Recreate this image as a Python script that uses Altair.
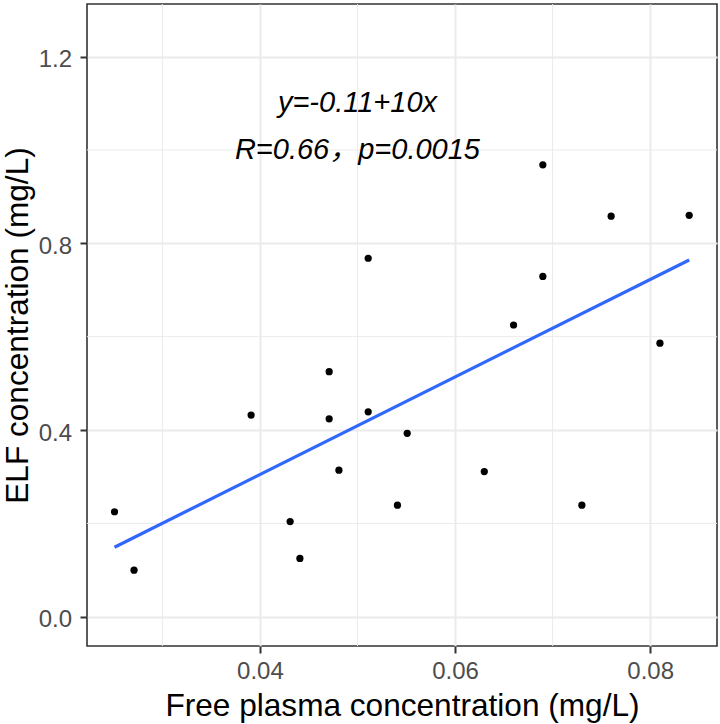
import altair as alt
import pandas as pd

# Free plasma vs. ELF concentrations (mg/L)
plasma = [0.0251, 0.0271, 0.0391, 0.0431, 0.0441, 0.0471, 0.0471, 0.0481, 0.0511, 0.0511,
          0.0551, 0.0541, 0.0630, 0.0730, 0.0690, 0.0690, 0.0660, 0.0760, 0.0840, 0.0810]
elf = [0.225, 0.100, 0.432, 0.204, 0.125, 0.525, 0.424, 0.314, 0.439, 0.768,
       0.393, 0.239, 0.311, 0.239, 0.968, 0.729, 0.625, 0.858, 0.860, 0.586]

# Axis breaks
x_major = [0.04, 0.06, 0.08]
x_minor = [0.03, 0.05, 0.07]
y_major = [0.0, 0.4, 0.8, 1.2]
y_minor = [0.2, 0.6, 1.0]

# Regression annotation
note_lines = ["y=-0.11+10x", "R=0.66\uff0cp=0.0015"]
note_x = [0.05, 0.05]
note_y = [1.1, 1.0]

FONT = "Liberation Sans, Arial, Noto Sans CJK SC, sans-serif"

points_df = pd.DataFrame({"x": plasma, "y": elf})
minor_x_df = pd.DataFrame({"x": x_minor})
minor_y_df = pd.DataFrame({"y": y_minor})
notes_df = pd.DataFrame({"x": note_x, "y": note_y, "label": note_lines})

xscale = alt.Scale(domain=[0.02228, 0.08685], nice=False, zero=False)
yscale = alt.Scale(domain=[-0.0625, 1.3125], nice=False, zero=False)

x_axis = alt.Axis(
    values=x_major, format=".2f", title="Free plasma concentration (mg/L)",
    labelPadding=6.5, titleBaseline="alphabetic", titleY=69.5,
)
y_axis = alt.Axis(
    values=y_major, format=".1f", title="ELF concentration (mg/L)",
    labelPadding=8.5, labelOffset=3, titleBaseline="alphabetic", titleX=-59.5, titleAngle=270,
)

X = alt.X("x:Q", scale=xscale, axis=x_axis)
Y = alt.Y("y:Q", scale=yscale, axis=y_axis)

minor_v = alt.Chart(minor_x_df).mark_rule(color="#EBEBEB", strokeWidth=1).encode(x=X)
minor_h = alt.Chart(minor_y_df).mark_rule(color="#EBEBEB", strokeWidth=1).encode(y=Y)

fit = (
    alt.Chart(points_df)
    .transform_regression("x", "y", method="linear")
    .mark_line(color="#3366FF", strokeWidth=3.2)
    .encode(x=X, y=Y)
)

points = alt.Chart(points_df).mark_circle(size=52, color="black", opacity=1).encode(x=X, y=Y)

notes = (
    alt.Chart(notes_df)
    .mark_text(font=FONT, fontSize=29, fontStyle="italic", align="center",
               baseline="middle", color="black")
    .encode(x=X, y=Y, text="label:N")
)

chart = (
    alt.layer(minor_v, minor_h, fit, points, notes)
    .properties(
        width=630, height=642,
        padding={"left": 87, "top": 4, "right": 3, "bottom": 78},
        autosize=alt.AutoSizeParams(type="none"),
        background="white",
    )
    .configure_view(stroke="#333333", strokeWidth=1.6)
    .configure_axis(
        domain=False, grid=True, gridColor="#EBEBEB", gridWidth=2,
        tickColor="#333333", tickWidth=2, tickSize=7,
        labelColor="#4D4D4D", labelFontSize=24, labelFont=FONT,
        labelFlush=False, labelOverlap=False,
        titleFont=FONT, titleFontSize=31.6, titleFontWeight="normal", titleColor="black",
    )
)

chart.save("out.html", embed_options={"renderer": "svg", "actions": False})
